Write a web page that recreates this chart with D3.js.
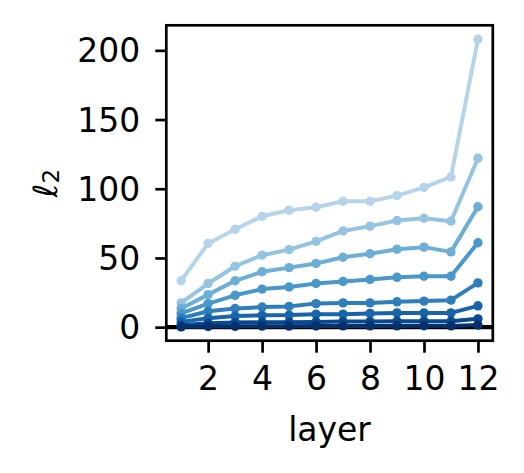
<!DOCTYPE html>
<html>
<head>
<meta charset="utf-8">
<script src="https://cdn.jsdelivr.net/npm/d3@7"></script>
<style>
  body { margin: 0; background: #fff; }
  text { font-family: "DejaVu Sans", sans-serif; fill: #000; }
</style>
</head>
<body>
<div id="chart"></div>
<script>
// layer index on x, l2 norm on y
var layers = [1, 2, 3, 4, 5, 6, 7, 8, 9, 10, 11, 12]
var xTicks = [2, 4, 6, 8, 10, 12]
var yTicks = [0, 50, 100, 150, 200]

var s1 = [33.5, 60.5, 70.7, 80, 84.5, 86.6, 91, 91, 95, 101, 108.5, 208]
var s2 = [17.5, 31.5, 44, 52, 56, 62, 69.5, 73, 77, 78.7, 76.5, 122]
var s3 = [13.5, 23.5, 33.5, 40, 43, 46, 50.5, 53, 56.3, 57.8, 54.4, 87]
var s4 = [10, 17, 23, 27.5, 29, 31.5, 33, 34.4, 36, 36.8, 36.8, 61]
var s5 = [6.5, 11.5, 13.5, 14.5, 15, 17, 17.5, 17.5, 18.3, 18.8, 19.5, 32]
var s6 = [3.8, 6.5, 8, 8.5, 8.7, 9.4, 9.4, 9.9, 10.3, 10.3, 10.3, 15.4]
var s7 = [1.4, 2.8, 3.3, 3.5, 3.6, 3.8, 4, 4, 4.2, 4.3, 4.2, 6]
var s8 = [0.2, 0.5, 0.6, 0.7, 0.7, 0.8, 0.9, 0.9, 0.9, 1.0, 0.9, 1.5]
var allSeries = [s1, s2, s3, s4, s5, s6, s7, s8]

var W = 524, H = 473
var box = { left: 166.3, right: 492.8, top: 25.3, bottom: 340.7 }
var fontSize = 33

// matplotlib "Blues" anchors
var blues = d3.scaleLinear()
    .domain(d3.range(9).map(function(i) { return i / 8 }))
    .range(["#f7fbff", "#deebf7", "#c6dbef", "#9ecae1", "#6baed6", "#4292c6", "#2171b5", "#08519c", "#08306b"])
    .interpolate(d3.interpolateRgb)
function colour(i) {
    return blues(0.3 + 0.7 * i / (allSeries.length - 1))
}

var x = d3.scaleLinear().domain([0.45, 12.55]).range([box.left, box.right])
var y = d3.scaleLinear().domain([-9.8, 218.1]).range([box.bottom, box.top])

var svg = d3.select("#chart").append("svg")
    .attr("width", W)
    .attr("height", H)

// zero line
svg.append("line")
    .attr("x1", box.left).attr("x2", box.right)
    .attr("y1", y(0)).attr("y2", y(0))
    .attr("stroke", "#000")
    .attr("stroke-width", 4.2)

var line = d3.line()
    .x(function(d, i) { return x(layers[i]) })
    .y(function(d) { return y(d) })

allSeries.forEach(function(vals, i) {
    var g = svg.append("g").attr("class", "series")
    g.append("path")
        .attr("d", line(vals))
        .attr("fill", "none")
        .attr("stroke", colour(i))
        .attr("stroke-width", 4)
        .attr("stroke-linejoin", "round")
    g.selectAll("circle")
        .data(vals)
        .enter()
        .append("circle")
        .attr("cx", function(d, j) { return x(layers[j]) })
        .attr("cy", function(d) { return y(d) })
        .attr("r", 4.7)
        .attr("fill", colour(i))
})

// axes
var xAxis = d3.axisBottom(x).tickValues(xTicks).tickSize(12).tickPadding(14)
var yAxis = d3.axisLeft(y).tickValues(yTicks).tickSize(11).tickPadding(15)

var gx = svg.append("g").attr("transform", "translate(0," + box.bottom + ")").call(xAxis)
var gy = svg.append("g").attr("transform", "translate(" + box.left + ",0)").call(yAxis)

;[gx, gy].forEach(function(g) {
    g.select(".domain").remove()
    g.selectAll(".tick line").attr("stroke", "#000").attr("stroke-width", 2.7)
    g.selectAll(".tick text")
        .style("font-family", "DejaVu Sans")
        .style("font-size", fontSize + "px")
        .attr("fill", "#000")
})
gy.selectAll(".tick text").attr("dy", "0.35em")
gx.selectAll(".tick text").attr("dy", "0.72em")

// frame
svg.append("rect")
    .attr("x", box.left).attr("y", box.top)
    .attr("width", box.right - box.left)
    .attr("height", box.bottom - box.top)
    .attr("fill", "none")
    .attr("stroke", "#000")
    .attr("stroke-width", 2.7)

// axis labels
svg.append("text")
    .attr("x", (box.left + box.right) / 2)
    .attr("y", 441)
    .attr("text-anchor", "middle")
    .style("font-size", fontSize + "px")
    .text("layer")

var ylab = svg.append("text")
    .attr("transform", "translate(57," + ((box.top + box.bottom) / 2) + ") rotate(-90)")
    .attr("text-anchor", "middle")
    .style("font-size", fontSize + "px")
ylab.append("tspan").style("font-style", "italic").text("ℓ")
ylab.append("tspan").style("font-size", "23px").attr("dy", 2).text("2")
</script>
</body>
</html>
